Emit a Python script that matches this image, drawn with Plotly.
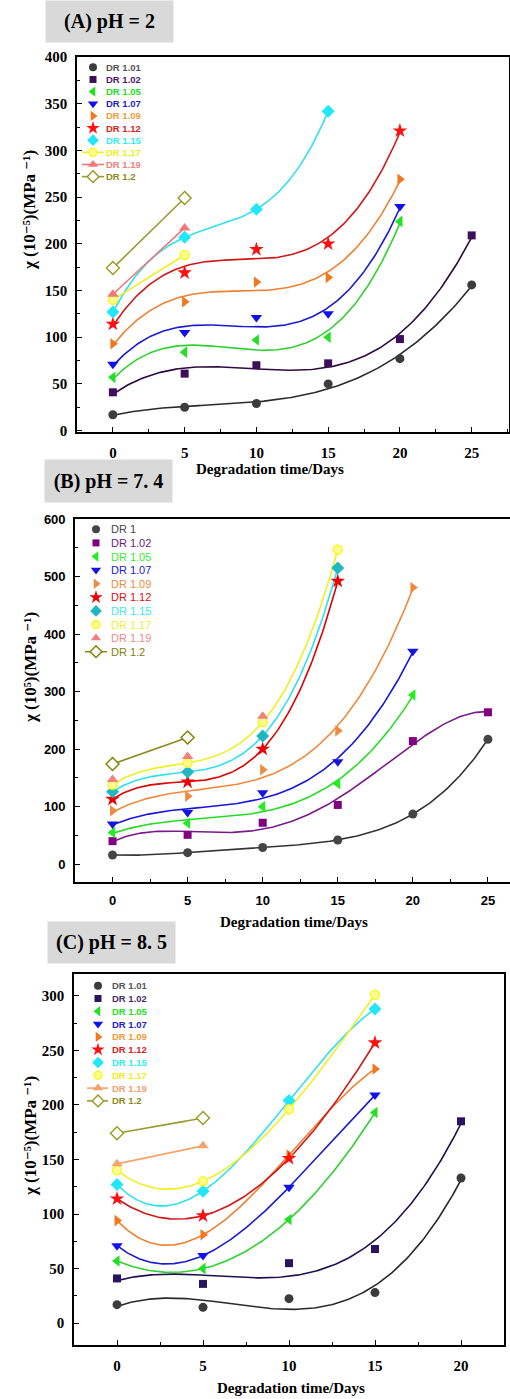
import numpy as np
import plotly.graph_objects as go

W, H = 510, 1399

# ---------------- data ----------------
# (A) pH = 2
names_a = ["DR 1.01", "DR 1.02", "DR 1.05", "DR 1.07", "DR 1.09",
           "DR 1.12", "DR 1.15", "DR 1.17", "DR 1.19", "DR 1.2"]
days_a = [[0, 5, 10, 15, 20, 25], [0, 5, 10, 15, 20, 25], [0, 5, 10, 15, 20],
          [0, 5, 10, 15, 20], [0, 5, 10, 15, 20], [0, 5, 10, 15, 20],
          [0, 5, 10, 15], [0, 5], [0, 5], [0, 5]]
chi_a = [[17, 25, 29, 50, 77, 156], [41, 61, 70, 72, 98, 209],
         [57, 84, 97, 100, 224], [71, 105, 121, 125, 240],
         [93, 138, 159, 164, 269], [114, 169, 194, 200, 321],
         [127, 207, 237, 342], [140, 188], [146, 217], [174, 249]]

# (B) pH = 7.4
names_b = ["DR 1", "DR 1.02", "DR 1.05", "DR 1.07", "DR 1.09",
           "DR 1.12", "DR 1.15", "DR 1.17", "DR 1.19", "DR 1.2"]
days_b = [[0, 5, 10, 15, 20, 25], [0, 5, 10, 15, 20, 25], [0, 5, 10, 15, 20],
          [0, 5, 10, 15, 20], [0, 5, 10, 15, 20], [0, 5, 10, 15],
          [0, 5, 10, 15], [0, 5, 10, 15], [0, 5, 10], [0, 5]]
chi_b = [[16, 20, 29, 42, 87, 217], [40, 51, 72, 103, 214, 264],
         [55, 71, 100, 140, 294], [70, 90, 124, 178, 370],
         [93, 118, 164, 232, 481], [113, 143, 200, 492],
         [126, 160, 223, 515], [138, 176, 247, 547], [147, 187, 257], [174, 220]]

# (C) pH = 8.5
names_c = ["DR 1.01", "DR 1.02", "DR 1.05", "DR 1.07", "DR 1.09",
           "DR 1.12", "DR 1.15", "DR 1.17", "DR 1.19", "DR 1.2"]
days_c = [[0, 5, 10, 15, 20], [0, 5, 10, 15, 20], [0, 5, 10, 15],
          [0, 5, 10, 15], [0, 5, 10, 15], [0, 5, 10, 15],
          [0, 5, 10, 15], [0, 5, 10, 15], [0, 5], [0, 5]]
chi_c = [[17, 14.5, 22.5, 28, 133], [41, 36, 55, 68, 185],
         [57, 50, 95, 193], [71, 62, 124.5, 209],
         [94, 81, 154, 233], [114, 98.5, 151, 257],
         [127, 121, 204, 288], [140, 130, 196, 301], [146, 162.5], [174, 188]]

# ---------------- styles ----------------
symbols = ["circle", "square", "triangle-left", "triangle-down", "triangle-right",
           "star", "diamond", "circle", "triangle-up", "diamond"]
sizes = [9, 8, 10, 10, 10, 11, 10, 9, 10, 10]

style_a = dict(
    marker=["#3c3c3c", "#3d0f5a", "#22e022", "#1010f0", "#f07820",
            "#ff1010", "#20e8f8", "#f8f820", "#f07878", "#9a9a20"],
    line=["#2a2a2a", "#2e0a40", "#30d030", "#1a1ad0", "#f08030",
          "#d01818", "#30e0f0", "#f0f020", "#f07878", "#9a9a30"],
    text=["#555555", "#4b1a6b", "#22dd22", "#2222cc", "#f09a40",
          "#e02020", "#30eeee", "#eeee22", "#f08080", "#8b8b20"],
    deg=[3, 3, 3, 3, 3, 3, 3, 1, 1, 1],
    leg_line=[False] * 7 + [True] * 3,
)
style_b = dict(
    marker=["#444444", "#800080", "#22ee22", "#1515dd", "#f08a3c",
            "#ee0000", "#20b8c0", "#f8f820", "#f08080", "#808000"],
    line=["#333333", "#7a1a8a", "#22dd22", "#1515dd", "#f08a3c",
          "#dd0000", "#30e0f0", "#f0f020", "#f08080", "#8a8a20"],
    text=["#444444", "#6a1a7a", "#33ee33", "#2020cc", "#f08a3c",
          "#dd1010", "#40e8f0", "#eeee30", "#f08a8a", "#808010"],
    deg=[4, 4, 3, 3, 3, 3, 3, 3, 0, 1],   # 0: points only
    leg_line=[False] * 9 + [True],
)
style_c = dict(
    marker=["#3c3c3c", "#2a1460", "#22e022", "#1010f0", "#f07820",
            "#ff1010", "#20e8f8", "#f8f820", "#f4a46a", "#9a9a20"],
    line=["#2a2a2a", "#201050", "#30d030", "#1a1ad0", "#f08030",
          "#d01818", "#30e0f0", "#f0f020", "#f4a46a", "#9a9a30"],
    text=["#555555", "#4b2a6b", "#22dd22", "#2222cc", "#f09a40",
          "#e02020", "#30eeee", "#eeee22", "#f0a070", "#8b8b20"],
    deg=[3, 3, 3, 3, 3, 3, 3, 3, 1, 1],
    leg_line=[False] * 8 + [True] * 2,
)

SERIF = "Liberation Serif, DejaVu Serif, Times New Roman, serif"
SANS = "Liberation Sans, Arial, sans-serif"


def px(x):
    return x / W


def py(y):
    return 1 - y / H


def marker_style(i, col, size):
    fill = col
    lw = 0
    if i == 9:
        fill, lw = "white", 1.4
    elif i == 7:
        fill, lw = "#fbfb90", 1.4
    return dict(symbol=symbols[i], size=size, color=fill, line=dict(color=col, width=lw))


fig = go.Figure()


def add_panel(xa, ya, days, vals, sty):
    # fitted polynomial curves
    for i, (d, v) in enumerate(zip(days, vals)):
        deg = sty["deg"][i]
        if deg == 0:
            continue
        d = np.asarray(d, float)
        v = np.asarray(v, float)
        coef = np.polyfit(d, v, deg)
        xs = np.linspace(d.min(), d.max(), 160)
        fig.add_trace(go.Scatter(
            x=xs, y=np.polyval(coef, xs), mode="lines",
            line=dict(color=sty["line"][i], width=1.6),
            xaxis=xa, yaxis=ya, showlegend=False, hoverinfo="skip"))
    # measured points
    for i, (d, v) in enumerate(zip(days, vals)):
        fig.add_trace(go.Scatter(
            x=d, y=v, mode="markers",
            marker=marker_style(i, sty["marker"][i], sizes[i]),
            xaxis=xa, yaxis=ya, showlegend=False))


add_panel("x", "y", days_a, chi_a, style_a)
add_panel("x2", "y2", days_b, chi_b, style_b)
add_panel("x3", "y3", days_c, chi_c, style_c)

# ---------------- in-plot legends (drawn on a pixel-space overlay) ----------------
annotations = []


def add_legend(names, sty, mx, lx0, lx1, tx, row0, step, fsize, weight):
    for i, name in enumerate(names):
        yy = row0 + i * step
        if sty["leg_line"][i]:
            fig.add_trace(go.Scatter(
                x=[lx0, lx1], y=[yy, yy], mode="lines",
                line=dict(color=sty["line"][i], width=1.6),
                xaxis="x4", yaxis="y4", showlegend=False, hoverinfo="skip"))
        fig.add_trace(go.Scatter(
            x=[mx], y=[yy], mode="markers",
            marker=marker_style(i, sty["marker"][i], sizes[i] - 1),
            xaxis="x4", yaxis="y4", showlegend=False, hoverinfo="skip"))
        annotations.append(dict(
            x=px(tx), y=py(yy), xref="paper", yref="paper",
            xanchor="left", yanchor="middle", showarrow=False, text=name,
            font=dict(family=SANS, size=fsize, color=sty["text"][i], weight=weight)))


add_legend(names_a, style_a, 93, 82, 104, 104, 67.3, 12.15, 9.5, "bold")
add_legend(names_b, style_b, 96, 85, 107, 109, 529.3, 13.6, 11, "normal")
add_legend(names_c, style_c, 98, 87, 108, 110, 985.7, 12.8, 9.5, "bold")

# ---------------- panel titles and axis titles ----------------
for txt, x0, y0, x1, y1 in [("(A) pH = 2", 46, 1, 173, 42),
                             ("(B) pH = 7. 4", 45, 460, 172, 502),
                             ("(C) pH = 8. 5", 48, 922, 175, 963)]:
    annotations.append(dict(
        x=px((x0 + x1) / 2), y=py((y0 + y1) / 2), xref="paper", yref="paper",
        xanchor="center", yanchor="middle", showarrow=False, text=txt,
        width=x1 - x0, height=y1 - y0, bgcolor="#d9d9d9", borderpad=0, align="center",
        valign="middle",
        font=dict(family=SERIF, size=20, color="black", weight="bold")))

for cx, cy in [(270, 469), (294, 922), (291, 1388)]:
    annotations.append(dict(x=px(cx), y=py(cy), xref="paper", yref="paper",
                            xanchor="center", yanchor="middle",
                            showarrow=False, text="Degradation time/Days",
                            font=dict(family=SERIF, size=15, color="black", weight="bold")))

ytitles = [("χ (10⁻⁵)(MPa ⁻¹)", 30, 210),
           ("χ (10⁵)(MPa ⁻¹)", 30, 668),
           ("χ (10⁻⁵)(MPa ⁻¹)", 30, 1136)]
for txt, cx, cy in ytitles:
    annotations.append(dict(x=px(cx), y=py(cy), xref="paper", yref="paper",
                            xanchor="center", yanchor="middle",
                            showarrow=False, text=txt, textangle=-90,
                            font=dict(family=SERIF, size=17, color="black", weight="bold")))


def xaxis(domain, rng, tfont, tickvals):
    return dict(domain=domain, range=rng, tickmode="array", tickvals=tickvals,
                ticks="inside", ticklen=5, tickwidth=1.3, tickcolor="black",
                minor=dict(ticks="inside", ticklen=3, tickwidth=1.2, dtick=2.5, tick0=0,
                           tickcolor="black"),
                showline=True, linewidth=1.6, linecolor="black", mirror=True,
                showgrid=False, zeroline=False, tickfont=tfont, ticklabelstandoff=6,
                fixedrange=True)


def yaxis(domain, rng, dtick, tfont, anchor, mirror=True):
    return dict(domain=domain, range=rng, dtick=dtick, tick0=0, anchor=anchor,
                ticks="inside", ticklen=5, tickwidth=1.3, tickcolor="black",
                minor=dict(ticks="inside", ticklen=3, tickwidth=1.2, dtick=dtick / 2,
                           tick0=0, tickcolor="black"),
                showline=True, linewidth=1.6, linecolor="black", mirror=mirror,
                showgrid=False, zeroline=False, tickfont=tfont, ticklabelstandoff=5,
                fixedrange=True)


serif_tf = dict(family=SERIF, size=15, color="black", weight="bold")
sans_tf = dict(family=SANS, size=13, color="black", weight="bold")
days_ticks = [0, 5, 10, 15, 20, 25]

fig.update_layout(
    width=W, height=H,
    margin=dict(l=0, r=0, t=0, b=0),
    paper_bgcolor="white", plot_bgcolor="rgba(0,0,0,0)",
    template="none",
    showlegend=False,
    xaxis=dict(xaxis([px(77), px(509)], [-2.5, 27.6], serif_tf, days_ticks), anchor="y"),
    yaxis=yaxis([py(432), py(57)], [-1.5, 400], 50, serif_tf, "x"),
    xaxis2=dict(xaxis([px(75), 1.0], [-2.5, 26.47], sans_tf, days_ticks), anchor="y2"),
    yaxis2=yaxis([py(882), py(519)], [-31, 600], 100, sans_tf, "x2", mirror=False),
    xaxis3=dict(xaxis([px(74), px(504)], [-2.5, 22.5], serif_tf, days_ticks[:5]), anchor="y3"),
    yaxis3=yaxis([py(1345), py(974)], [-20, 320], 50, serif_tf, "x3"),
    xaxis4=dict(domain=[0, 1], range=[0, W], visible=False, anchor="y4", fixedrange=True),
    yaxis4=dict(domain=[0, 1], range=[H, 0], visible=False, anchor="x4", fixedrange=True),
    annotations=annotations,
)

fig.write_html("out.html")
